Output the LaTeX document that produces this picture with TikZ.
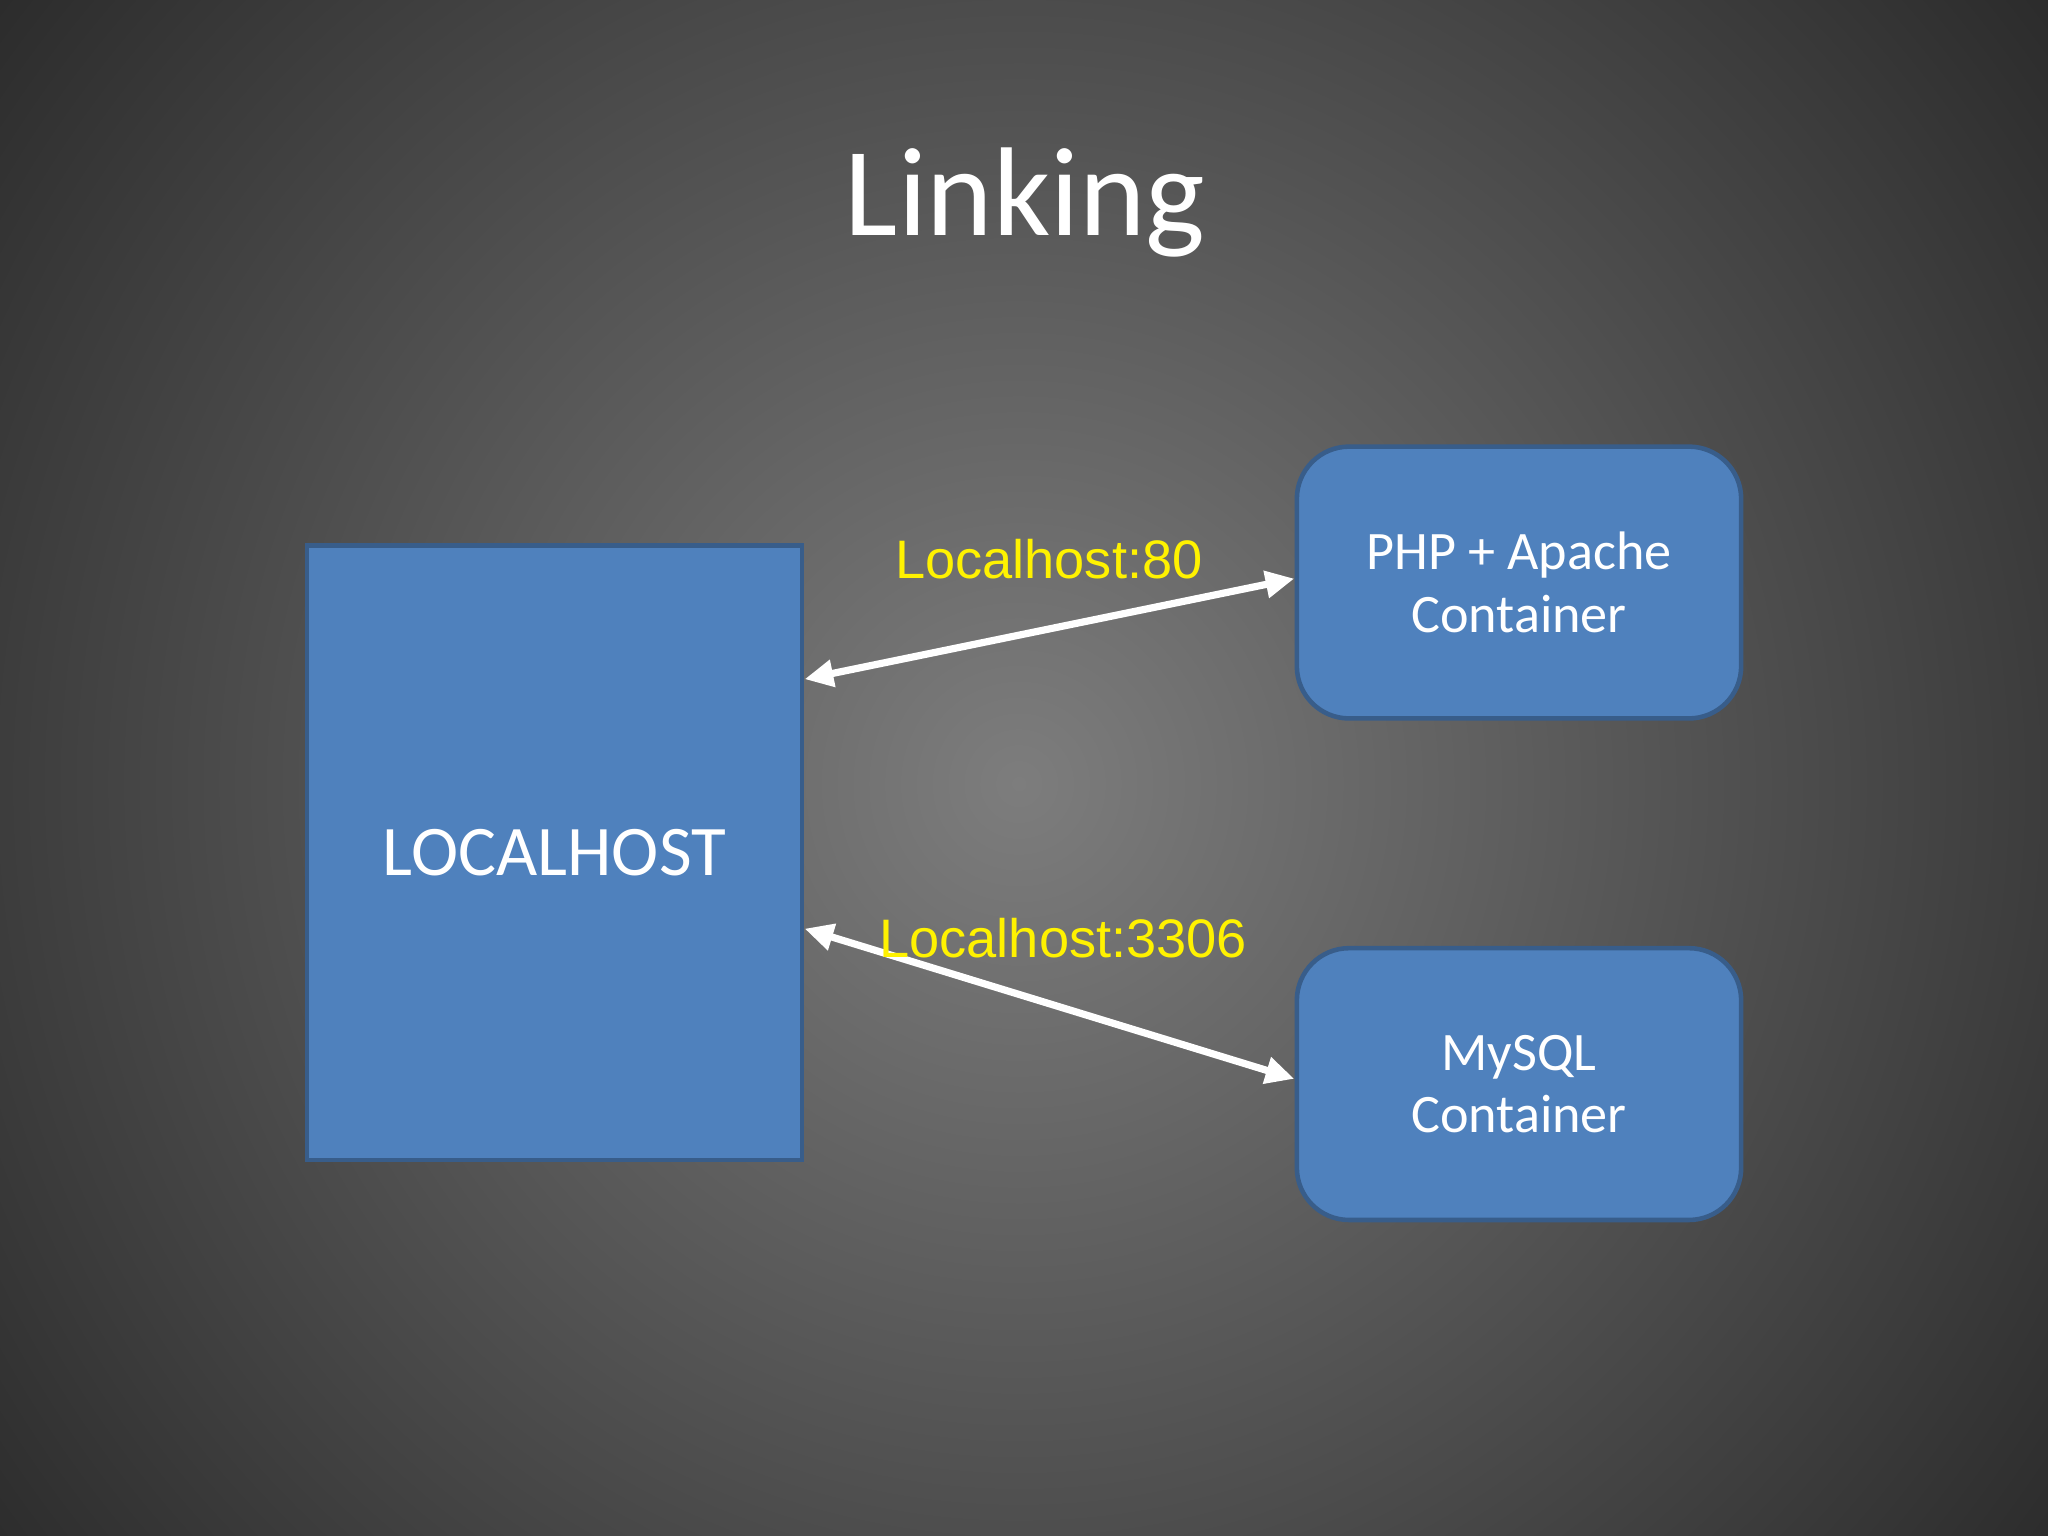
\documentclass[tikz,border=0pt]{standalone}
\usepackage{fontspec}
\setmainfont{Carlito}
\newfontfamily\arialf{Liberation Sans}
\usetikzlibrary{arrows.meta}
\definecolor{boxblue}{HTML}{4F81BD}
\definecolor{boxedge}{HTML}{385D8A}
\definecolor{bgin}{rgb}{0.49,0.49,0.49}
\definecolor{bgout}{rgb}{0.07,0.07,0.07}
\tikzset{
  box/.style={draw=boxedge, line width=0.035cm, fill=boxblue, text=white, align=center},
  link/.style={draw=white, line width=0.055cm, {Triangle[length=0.22cm,width=0.2cm]}-{Triangle[length=0.22cm,width=0.2cm]}},
  lbl/.style={text=yellow, font=\arialf\fontsize{11.8pt}{14pt}\selectfont}
}
\begin{document}
\begin{tikzpicture}[x=0.01cm,y=-0.01cm]
\useasboundingbox (0,0) rectangle (1568,1176);
\begin{scope}
\clip (0,0) rectangle (1568,1176);
\shade[inner color=bgin, outer color=bgout] (-520,-700) rectangle (2080,1900);
\end{scope}
\node[text=white, font=\fontsize{27.5pt}{32pt}\selectfont] (title) at (785,155) {Linking};
\node[box, minimum width=3.79cm, minimum height=4.70cm, font=\fontsize{15.5pt}{19pt}\selectfont] (lh) at (424.5,653) {LOCALHOST};
\node[box, rounded corners=0.4cm, minimum width=3.40cm, minimum height=2.08cm, font=\fontsize{11.8pt}{13.6pt}\selectfont] (php) at (1163,446) {PHP + Apache\\Container};
\node[box, rounded corners=0.4cm, minimum width=3.40cm, minimum height=2.08cm, font=\fontsize{11.8pt}{13.6pt}\selectfont] (sql) at (1163,830) {MySQL\\Container};
\coordinate (a1) at (616,520);
\coordinate (b1) at (991,443);
\coordinate (a2) at (616,711);
\coordinate (b2) at (991,826);
\draw[link] (a1) -- (b1);
\draw[link] (a2) -- (b2);
\node[lbl] (l1) at (803,428) {Localhost:80};
\node[lbl] (l2) at (814,718) {Localhost:3306};
\end{tikzpicture}
\end{document}
